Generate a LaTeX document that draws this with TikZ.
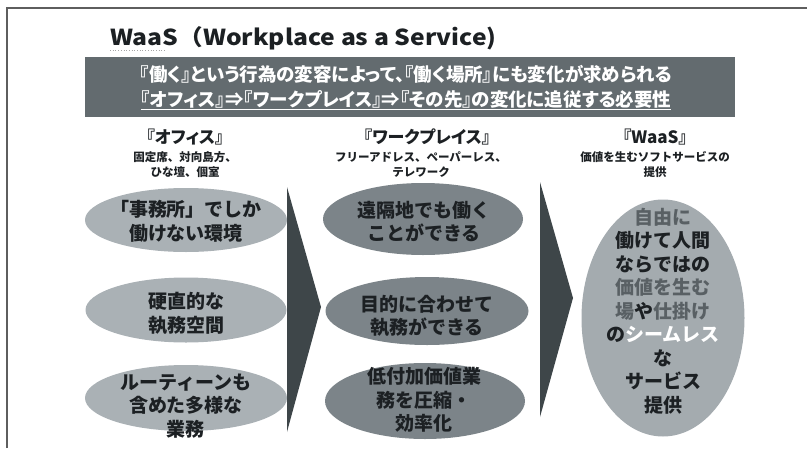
\documentclass[tikz,border=0pt]{standalone}
\usepackage{fontspec}
\setmainfont{Noto Sans CJK JP}
\newfontfamily\paltfont{Noto Sans CJK JP}[RawFeature=+palt]
\usetikzlibrary{shapes.geometric}
\definecolor{framec}{HTML}{5E5E5E}
\definecolor{bannerc}{HTML}{636B6F}
\definecolor{chevc}{HTML}{3E4649}
\definecolor{lightell}{HTML}{AAB1B5}
\definecolor{midell}{HTML}{7C8489}
\definecolor{rightell}{HTML}{A4ABAF}
\definecolor{txtc}{HTML}{1C2023}
\definecolor{graytxt}{HTML}{596064}
\tikzset{
  ell/.style={ellipse, inner sep=0pt, draw=none},
  elltext/.style={inner sep=0pt, align=center, text=txtc, font=\fontsize{19}{23.5}\selectfont\bfseries},
  head/.style={inner sep=0pt, text=txtc, font=\paltfont\fontsize{17}{18}\selectfont\bfseries},
  subhead/.style={inner sep=0pt, align=center, text=txtc, font=\fontsize{11.5}{15}\selectfont\bfseries},
  chevron/.style={fill=chevc, draw=none},
  bannertext/.style={inner sep=0pt, text=white, font=\paltfont\fontsize{18.5}{20}\selectfont\bfseries}
}
\begin{document}
\begin{tikzpicture}[x=1pt,y=-1pt]
\useasboundingbox (0,0) rectangle (807,448);
% frame
\draw[framec, line width=1.3pt] (7,448) -- (7,8) -- (807,8);
% title
\node[anchor=west, inner sep=0pt, text=txtc, font=\fontsize{22}{25}\selectfont\bfseries] (title) at (110,38) {\scalebox{1.12}[1]{WaaS（Workplace as a Service)}};
\draw[gray!70, dotted, line width=0.7pt] (110,50) -- (166,50);
% banner
\node[fill=bannerc, minimum width=650pt, minimum height=60pt, inner sep=0pt] (banner) at (410,87) {};
\node[bannertext] (b1) at (406,74) {『働く』という行為の変容によって、『働く場所』にも変化が求められる};
\node[bannertext] (b2) at (406,100) {\underline{『オフィス』⇒『ワークプレイス』⇒『その先』の変化に追従する必要性}};
% headers
\node[head] (h1) at (185,137) {『オフィス』};
\node[subhead] (s1) at (185,164.5) {固定席、対向島方、\\ひな壇、個室};
\node[head] (h2) at (427,137) {『ワークプレイス』};
\node[subhead] (s2) at (421,164.5) {フリーアドレス、ペーパーレス、\\テレワーク};
\node[head] (h3) at (655,137) {『WaaS』};
\node[subhead] (s3) at (655,164.5) {価値を生むソフトサービスの\\提供};
% chevrons
\fill[chevron] (287,187) -- (321,307) -- (287,432) -- cycle;
\fill[chevron] (540,182) -- (573,298) -- (540,417) -- cycle;
% left ellipses
\node[ell, fill=lightell, minimum width=202pt, minimum height=64pt] (o1) at (186,220) {};
\node[elltext] (o1t) at (186,221.5) {「事務所」でしか\\働けない環境};
\node[ell, fill=lightell, minimum width=201pt, minimum height=65pt] (o2) at (186,310) {};
\node[elltext] (o2t) at (186,313.5) {硬直的な\\執務空間};
\node[ell, fill=lightell, minimum width=202pt, minimum height=66pt] (o3) at (186,398) {};
\node[elltext] (o3t) at (186,406) {ルーティーンも\\含めた多様な\\業務};
% middle ellipses
\node[ell, fill=midell, minimum width=200pt, minimum height=72pt] (m1) at (423,219) {};
\node[elltext] (m1t) at (424,221.5) {遠隔地でも働く\\ことができる};
\node[ell, fill=midell, minimum width=203pt, minimum height=68pt] (m2) at (427,311) {};
\node[elltext] (m2t) at (427,316) {目的に合わせて\\執務ができる};
\node[ell, fill=midell, minimum width=200pt, minimum height=76pt] (m3) at (425,401) {};
\node[elltext] (m3t) at (424,400) {低付加価値業\\務を圧縮・\\効率化};
% right ellipse
\node[ell, fill=rightell, minimum width=163pt, minimum height=237pt] (r) at (663,318) {};
\node[elltext] (rt) at (663,311) {{\color{graytxt}自由に}\\働けて人間\\ならではの\\{\color{graytxt}価値を生む}\\{\color{graytxt}場}や{\color{graytxt}仕掛け}\\の{\color{white}シームレス}\\な\\サービス\\提供};
\end{tikzpicture}
\end{document}
